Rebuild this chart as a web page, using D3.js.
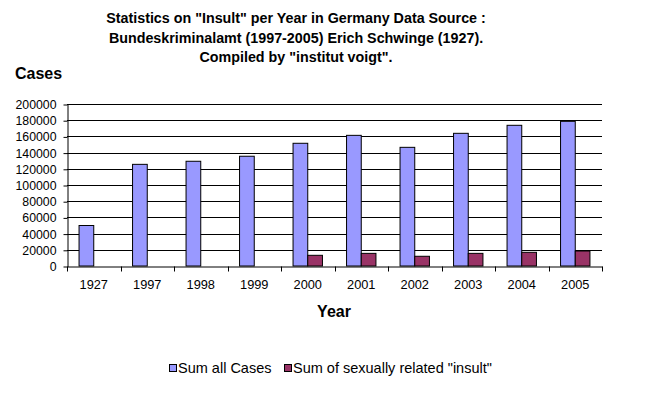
<!DOCTYPE html>
<html>
<head>
<meta charset="utf-8">
<script src="https://cdn.jsdelivr.net/npm/d3@7"></script>
<style>
  body { margin: 0; background: #fff; }
  text { font-family: Arial, "Liberation Sans", sans-serif; }
</style>
</head>
<body>
<svg id="chart" width="663" height="397"></svg>
<script>
// chart data
var years = ["1927", "1997", "1998", "1999", "2000", "2001", "2002", "2003", "2004", "2005"];
var allCases = [50000, 125500, 129300, 135500, 151500, 161300, 146500, 163800, 173700, 178600];
var sexualCases = [0, 0, 0, 0, 13200, 15600, 12000, 15600, 16900, 18500];
var seriesNames = ["Sum all Cases", "Sum of sexually related \"insult\""];
var seriesColors = ["#9999ff", "#993366"];
var yTicks = [0, 20000, 40000, 60000, 80000, 100000, 120000, 140000, 160000, 180000, 200000];
var titleLines = [
  "Statistics on \"Insult\" per Year in Germany Data Source :",
  "Bundeskriminalamt (1997-2005) Erich Schwinge (1927).",
  "Compiled by \"institut voigt\"."
];

var svg = d3.select("#chart");
// plot area edges (window.top is reserved, so prefixed names)
var plotLeft = 67, plotRight = 602, plotTop = 104, plotBottom = 266;

var x = d3.scaleBand().domain(years).range([plotLeft, plotRight]).paddingInner(0).paddingOuter(0);
var y = d3.scaleLinear().domain([0, 200000]).range([plotBottom, plotTop]);

// title
svg.append("g").selectAll("text").data(titleLines).enter().append("text")
  .attr("x", 296)
  .attr("y", function (d, i) { return 23 + i * 19.5; })
  .attr("text-anchor", "middle")
  .attr("font-size", "14.3px")
  .attr("font-weight", "bold")
  .text(function (d) { return d; });

// gridlines
svg.append("g").selectAll("line").data(yTicks.slice(1)).enter().append("line")
  .attr("x1", plotLeft).attr("x2", plotRight)
  .attr("y1", function (d) { return Math.round(y(d)) + 0.5; })
  .attr("y2", function (d) { return Math.round(y(d)) + 0.5; })
  .attr("stroke", "#000");

// bars
var bw = 14.7;
var groups = svg.append("g").selectAll("g").data(years).enter().append("g");
groups.append("rect")
  .attr("x", function (d) { return x(d) + x.bandwidth() / 2 - bw; })
  .attr("y", function (d, i) { return y(allCases[i]); })
  .attr("width", bw)
  .attr("height", function (d, i) { return plotBottom - y(allCases[i]); })
  .attr("fill", seriesColors[0])
  .attr("stroke", "#000");
groups.filter(function (d, i) { return sexualCases[i] > 0; }).append("rect")
  .attr("x", function (d) { return x(d) + x.bandwidth() / 2; })
  .attr("y", function (d) { return y(sexualCases[years.indexOf(d)]); })
  .attr("width", bw)
  .attr("height", function (d) { return plotBottom - y(sexualCases[years.indexOf(d)]); })
  .attr("fill", seriesColors[1])
  .attr("stroke", "#000");

// y axis
var yAxis = svg.append("g")
  .attr("transform", "translate(" + (plotLeft + 0.5) + ",0.5)")
  .call(d3.axisLeft(y).tickValues(yTicks).tickSize(4).tickSizeOuter(0).tickPadding(7).tickFormat(d3.format("d")));
yAxis.selectAll("text").attr("font-size", "12.3px").attr("font-family", "Arial, 'Liberation Sans', sans-serif").attr("fill", "#000");
yAxis.selectAll("line, path").attr("stroke", "#000");

// x axis
var xAxis = svg.append("g")
  .attr("transform", "translate(0," + (plotBottom + 0.5) + ")")
  .call(d3.axisBottom(x).tickSize(0).tickPadding(13).tickSizeOuter(0));
xAxis.selectAll("text").attr("font-size", "12.8px").attr("font-family", "Arial, 'Liberation Sans', sans-serif").attr("fill", "#000");
xAxis.select("path").attr("stroke", "#000");
xAxis.selectAll(".sep").data(years.concat(["end"])).enter().append("line")
  .attr("x1", function (d) { return Math.round(d === "end" ? plotRight : x(d)) + 0.5; })
  .attr("x2", function (d) { return Math.round(d === "end" ? plotRight : x(d)) + 0.5; })
  .attr("y1", 0).attr("y2", 5)
  .attr("stroke", "#000");

// axis titles
svg.append("text").attr("x", 15).attr("y", 79)
  .attr("font-size", "16px").attr("font-weight", "bold").text("Cases");
svg.append("text").attr("x", 334).attr("y", 317).attr("text-anchor", "middle")
  .attr("font-size", "16px").attr("font-weight", "bold").text("Year");

// legend
var legendX = [169, 284];
var legend = svg.append("g").selectAll("g").data(seriesNames).enter().append("g")
  .attr("transform", function (d, i) { return "translate(" + legendX[i] + ",364)"; });
legend.append("rect").attr("x", 0.5).attr("y", 0.5).attr("width", 7).attr("height", 7)
  .attr("fill", function (d, i) { return seriesColors[i]; }).attr("stroke", "#000");
legend.append("text").attr("x", 9).attr("y", 8.5)
  .attr("font-size", "14.5px").text(function (d) { return d; });
</script>
</body>
</html>
